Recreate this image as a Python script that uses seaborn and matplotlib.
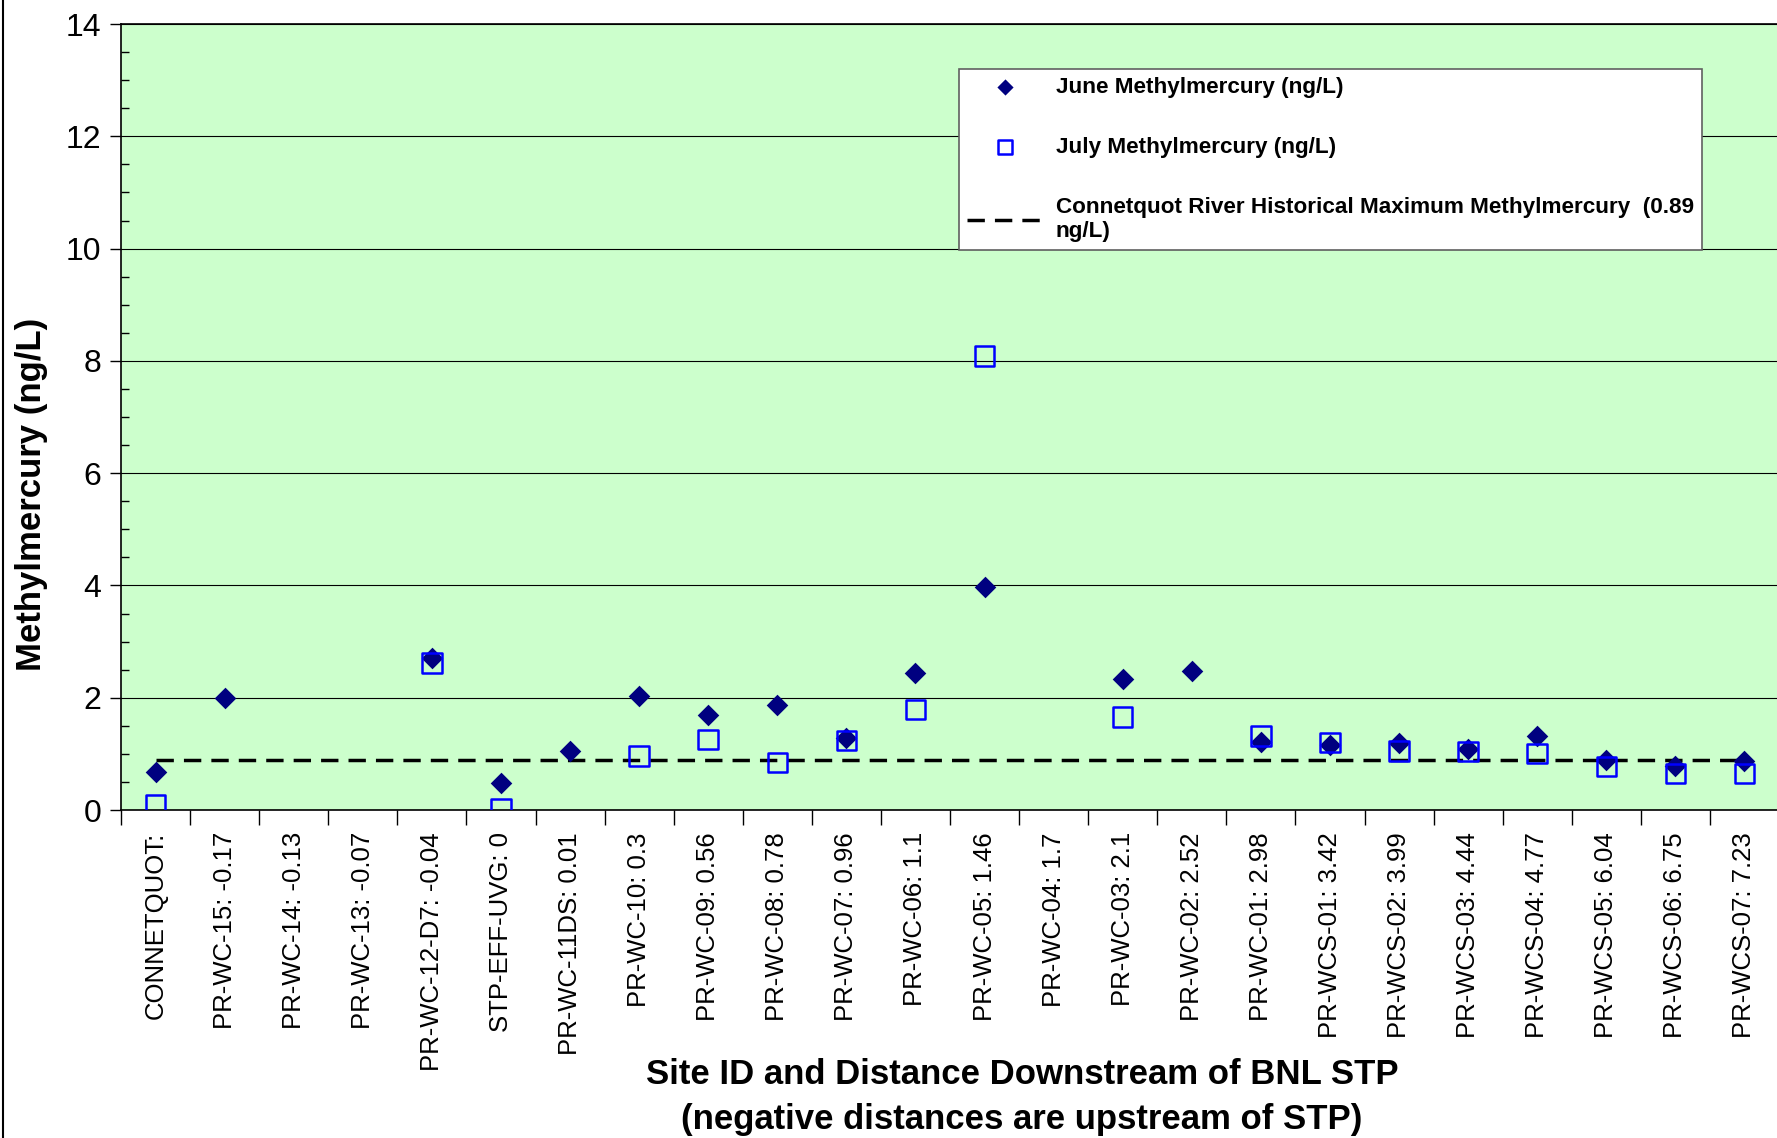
import numpy as np
import pandas as pd
import seaborn as sns
import matplotlib.pyplot as plt
from matplotlib.lines import Line2D
from matplotlib.ticker import MultipleLocator

nan = np.nan

sites = ["CONNETQUOT:", "PR-WC-15: -0.17", "PR-WC-14: -0.13", "PR-WC-13: -0.07",
         "PR-WC-12-D7: -0.04", "STP-EFF-UVG: 0", "PR-WC-11DS: 0.01", "PR-WC-10: 0.3",
         "PR-WC-09: 0.56", "PR-WC-08: 0.78", "PR-WC-07: 0.96", "PR-WC-06: 1.1",
         "PR-WC-05: 1.46", "PR-WC-04: 1.7", "PR-WC-03: 2.1", "PR-WC-02: 2.52",
         "PR-WC-01: 2.98", "PR-WCS-01: 3.42", "PR-WCS-02: 3.99", "PR-WCS-03: 4.44",
         "PR-WCS-04: 4.77", "PR-WCS-05: 6.04", "PR-WCS-06: 6.75", "PR-WCS-07: 7.23"]

june = [0.67, 2.00, nan, nan, 2.71, 0.48, 1.05, 2.03, 1.70, 1.87, 1.29, 2.44,
        3.98, nan, 2.33, 2.47, 1.21, 1.16, 1.19, 1.08, 1.32, 0.89, 0.79, 0.88]
july = [0.10, nan, nan, nan, 2.62, 0.02, nan, 0.96, 1.26, 0.85, 1.24, 1.79,
        8.09, nan, 1.66, nan, 1.32, 1.20, 1.05, 1.04, 1.01, 0.77, 0.65, 0.65]
hist_max = 0.89

lbl_june = "June Methylmercury (ng/L)"
lbl_july = "July Methylmercury (ng/L)"
lbl_hist = "Connetquot River Historical Maximum Methylmercury  (0.89\nng/L)"

plt.rcParams['font.family'] = ['Liberation Sans', 'DejaVu Sans']

df = pd.DataFrame({"pos": np.arange(len(sites)), "site": sites, "june": june, "july": july})
n = len(sites)

W, H = 1777, 1138
fig = plt.figure(figsize=(W / 100, H / 100), dpi=100)
ax = fig.add_axes([121 / W, 1 - 810 / H, (1779 - 121) / W, (810 - 24) / H])
ax.set_facecolor("#CCFFCC")

sns.scatterplot(data=df, x="pos", y="june", marker="D", s=11 ** 2, color="#000080",
                edgecolor="#000080", linewidth=0, label=lbl_june, ax=ax, zorder=3)
sns.scatterplot(data=df, x="pos", y="july", marker="s", s=14 ** 2, facecolor="none",
                edgecolor="#0000FF", linewidth=1.8, label=lbl_july, ax=ax, zorder=4)
ax.plot([df["pos"].iloc[0], df["pos"].iloc[-1]], [hist_max, hist_max], color="black",
        lw=2.5, dashes=(5, 2.9), label=lbl_hist, zorder=2)

ax.set_xlim(-0.5, n - 0.5)
ax.set_ylim(0, 14)
ax.set_yticks(np.arange(0, 15, 2))
ax.yaxis.set_minor_locator(MultipleLocator(0.5))
ax.tick_params(axis="y", which="major", direction="out", length=8, width=1, labelsize=23, pad=6)
ax.tick_params(axis="y", which="minor", direction="in", length=6, width=1)
ax.set_xticks(df["pos"])
ax.set_xticklabels(sites, rotation=90, fontsize=18.5)
ax.set_xticks(np.arange(n + 1) - 0.5, minor=True)
ax.tick_params(axis="x", which="major", length=0, pad=16)
ax.tick_params(axis="x", which="minor", direction="out", length=11, width=1)

ax.yaxis.grid(True, which="major", color="black", lw=0.8)
ax.set_axisbelow(True)
for s in ["left", "bottom", "top"]:
    ax.spines[s].set_color("black")
    ax.spines[s].set_linewidth(1.2)
ax.spines["right"].set_visible(False)

ax.set_ylabel("Methylmercury (ng/L)", fontsize=25, fontweight="bold", va="center")
ax.yaxis.set_label_coords((32 - 121) / 1658, (810 - 494) / 786)
ax.set_xlabel("")
fig.text(1022 / W, 1 - 1075 / H, "Site ID and Distance Downstream of BNL STP",
         ha="center", va="center", fontsize=25, fontweight="bold")
fig.text(1022 / W, 1 - 1120 / H, "(negative distances are upstream of STP)",
         ha="center", va="center", fontsize=25, fontweight="bold")

leg = ax.legend(loc="upper left", bbox_to_anchor=(959 / W, 1 - 69 / H),
                bbox_transform=fig.transFigure, frameon=True, fancybox=False,
                edgecolor="#606060", framealpha=1, facecolor="white",
                prop={"weight": "bold", "size": 16.2}, handlelength=3.4,
                handletextpad=0.55, labelspacing=1.74, borderpad=0.35,
                borderaxespad=0, markerscale=0.75)
leg.get_frame().set_linewidth(1.2)

fig.add_artist(Line2D([2.5 / W, 2.5 / W], [0, 1], transform=fig.transFigure, color="black", lw=1.5))

fig.savefig("out.png", dpi=100)
